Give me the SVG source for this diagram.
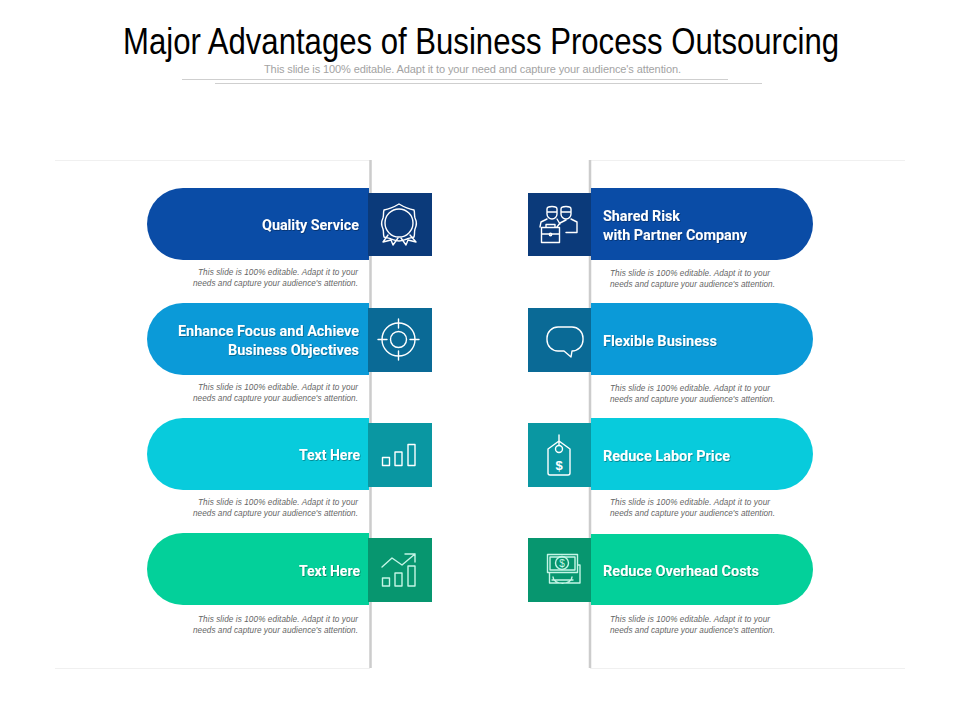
<svg xmlns="http://www.w3.org/2000/svg" width="960" height="720" viewBox="0 0 960 720">
<style>
text{font-family:"Liberation Sans",Arial,sans-serif}
.lab{font-family:Roboto,"Liberation Sans",sans-serif;font-weight:700;font-size:14px;fill:#fff;filter:url(#sh)}
.desc{font-size:8.2px;font-style:italic;fill:#666}
.e{text-anchor:end}
.ic{fill:none;stroke:#fff;stroke-width:1.4;stroke-linejoin:round;stroke-linecap:round}
.g{stroke:#c4f5e6}
.b1{fill:#0a4ca6}.s1{fill:#0b3a7a}
.b2{fill:#0b9ad8}.s2{fill:#0a6a96}
.b3{fill:#08cbdc}.s3{fill:#0a97a2}
.b4{fill:#03d09a}.s4{fill:#07966f}
</style>
<defs>
<filter id="sh" x="-10%" y="-30%" width="120%" height="170%"><feDropShadow dx="0.7" dy="0.8" stdDeviation="0.5" flood-color="#000" flood-opacity="0.4"/></filter>
</defs>
<rect width="960" height="720" fill="#fff"/>
<g id="header">
<text x="123" y="54" font-size="36" textLength="716" lengthAdjust="spacingAndGlyphs" fill="#000">Major Advantages of Business Process Outsourcing</text>
<text x="264" y="73" font-size="11" textLength="417" lengthAdjust="spacing" fill="#a3a3a3">This slide is 100% editable. Adapt it to your need and capture your audience's attention.</text>
<path d="M182 79.500H728M215 83.500H762" stroke="#cfcfcf" stroke-width="1" fill="none"/>
</g>
<g id="connectors" fill="none">
<path d="M55 160.500H370M590 160.500H905M55 668.500H370M590 668.500H905" stroke="#f0f0f0" stroke-width="1"/>
<path d="M370.500 160V668M590 160V668" stroke="#cccccc" stroke-width="2.500"/>
</g>

<g id="node-quality-service">
<path class="b1" d="M369 188H183a36 36 0 0 0 0 72H369Z"/>
<rect class="s1" x="368" y="193" width="64" height="63"/>
<path class="ic" d="M399 204c5 3 9 5 15 6 1 3 0 5 1 8 2 4 2 7 0 11-1 3 0 5-1 8-3 1-5 1-7 2-3 1-5 2-8 2s-5-1-8-2c-2-1-4-1-7-2-1-3 0-5-1-8-2-4-2-7 0-11 1-3 0-5 1-8 6-1 10-3 15-6Z"/>
<circle class="ic" cx="399" cy="223" r="14"/>
<path class="ic" d="M388 235l-5 7 8-2 2 5 5-7M410 235l6 7-8-2-2 5-5-7"/>
<text class="lab e" x="359" y="230" textLength="97" lengthAdjust="spacingAndGlyphs">Quality Service</text>
<text class="desc e" x="358" y="275" textLength="160">This slide is 100% editable. Adapt it to your</text>
<text class="desc e" x="358" y="286" textLength="165">needs and capture your audience's attention.</text>
</g>

<g id="node-enhance-focus">
<path class="b2" d="M369 303H183a36 36 0 0 0 0 72H369Z"/>
<rect class="s2" x="368" y="308" width="64" height="64"/>
<circle class="ic" cx="398.500" cy="339.500" r="16.500"/>
<circle class="ic" cx="398.500" cy="339.500" r="8"/>
<path class="ic" d="M398.500 319v9M398.500 351v9M378 339.500h9M410 339.500h9"/>
<text class="lab e" x="359" y="336" textLength="181" lengthAdjust="spacingAndGlyphs">Enhance Focus and Achieve</text>
<text class="lab e" x="359" y="355" textLength="131" lengthAdjust="spacingAndGlyphs">Business Objectives</text>
<text class="desc e" x="358" y="390" textLength="160">This slide is 100% editable. Adapt it to your</text>
<text class="desc e" x="358" y="401" textLength="165">needs and capture your audience's attention.</text>
</g>

<g id="node-text-here-1">
<path class="b3" d="M369 418H183a36 36 0 0 0 0 72H369Z"/>
<rect class="s3" x="368" y="423" width="64" height="64"/>
<path class="ic" d="M382.500 457.500h7v8h-7ZM395 452h7v13.500h-7ZM408 444.500h7v21h-7Z"/>
<text class="lab e" x="360" y="460" textLength="61" lengthAdjust="spacingAndGlyphs">Text Here</text>
<text class="desc e" x="358" y="505" textLength="160">This slide is 100% editable. Adapt it to your</text>
<text class="desc e" x="358" y="516" textLength="165">needs and capture your audience's attention.</text>
</g>

<g id="node-text-here-2">
<path class="b4" d="M369 533H183a36 36 0 0 0 0 72H369Z"/>
<rect class="s4" x="368" y="538" width="64" height="64"/>
<path class="ic g" d="M382.500 578h7v8h-7ZM395 573h7v13h-7ZM408 566h7v20h-7ZM382 567l10-9 10 7 13-11M405 554h10v8"/>
<text class="lab e" x="360" y="576" textLength="61" lengthAdjust="spacingAndGlyphs">Text Here</text>
<text class="desc e" x="358" y="622" textLength="160">This slide is 100% editable. Adapt it to your</text>
<text class="desc e" x="358" y="633" textLength="165">needs and capture your audience's attention.</text>
</g>

<g id="node-shared-risk">
<path class="b1" d="M591 188H777a36 36 0 0 1 0 72H591Z"/>
<rect class="s1" x="528" y="193" width="63" height="63"/>
<path class="ic" d="M547 209a5 2.500 0 0 1 10 0v5a5 5 0 0 1-10 0ZM547 212h10M561 209a5 2.500 0 0 1 10 0v5a5 5 0 0 1-10 0ZM561 212h10M547 219l-6 3-1 5M557 219l3 5M566 220l-6 3-3 4M571 219l6 3v10.500h-11M577 226v6"/>
<path class="ic" d="M541.500 227.500h18v15h-18ZM541.500 234h18M546 227.500v-3h9v3"/>
<circle class="ic" cx="550.500" cy="234.500" r="1.200"/>
<text class="lab" x="603" y="221" textLength="77" lengthAdjust="spacingAndGlyphs">Shared Risk</text>
<text class="lab" x="603" y="240" textLength="144" lengthAdjust="spacingAndGlyphs">with Partner Company</text>
<text class="desc" x="610" y="276" textLength="160">This slide is 100% editable. Adapt it to your</text>
<text class="desc" x="610" y="287" textLength="165">needs and capture your audience's attention.</text>
</g>

<g id="node-flexible-business">
<path class="b2" d="M591 303H777a36 36 0 0 1 0 72H591Z"/>
<rect class="s2" x="528" y="308" width="63" height="64"/>
<path class="ic" d="M558 327h14a11 11 0 0 1 11 11v2a11 11 0 0 1-11 11l-1 6-7-6h-6a11 11 0 0 1-11-11v-2a11 11 0 0 1 11-11Z"/>
<text class="lab" x="603" y="346" textLength="114" lengthAdjust="spacingAndGlyphs">Flexible Business</text>
<text class="desc" x="610" y="391" textLength="160">This slide is 100% editable. Adapt it to your</text>
<text class="desc" x="610" y="402" textLength="165">needs and capture your audience's attention.</text>
</g>

<g id="node-reduce-labor">
<path class="b3" d="M591 418H777a36 36 0 0 1 0 72H591Z"/>
<rect class="s3" x="528" y="423" width="63" height="64"/>
<path class="ic" d="M559 441l11 8v24a2 2 0 0 1-2 2h-18a2 2 0 0 1-2-2v-24ZM559 435v10"/>
<circle class="ic" cx="559" cy="449" r="3.500"/>
<text x="559" y="470" font-size="13" font-weight="700" fill="#fff" text-anchor="middle">$</text>
<text class="lab" x="603" y="461" textLength="127" lengthAdjust="spacingAndGlyphs">Reduce Labor Price</text>
<text class="desc" x="610" y="505" textLength="160">This slide is 100% editable. Adapt it to your</text>
<text class="desc" x="610" y="516" textLength="165">needs and capture your audience's attention.</text>
</g>

<g id="node-reduce-overhead">
<path class="b4" d="M591 534H777.500a35.500 35.500 0 0 1 0 71H591Z"/>
<rect class="s4" x="528" y="538" width="63" height="64"/>
<path class="ic g" stroke-width="1" d="M547.500 554.500h30v18h-30ZM550 557h25v13h-25ZM578 565h2v18h-30.500v-10.500M553 577a9 6 0 0 0 19 0M552 580h21"/>
<circle class="ic g" cx="562" cy="563" r="6.500"/>
<text x="562" y="567" font-size="10" fill="#c4f5e6" text-anchor="middle">$</text>
<text class="lab" x="603" y="576" textLength="156" lengthAdjust="spacingAndGlyphs">Reduce Overhead Costs</text>
<text class="desc" x="610" y="622" textLength="160">This slide is 100% editable. Adapt it to your</text>
<text class="desc" x="610" y="633" textLength="165">needs and capture your audience's attention.</text>
</g>
</svg>
